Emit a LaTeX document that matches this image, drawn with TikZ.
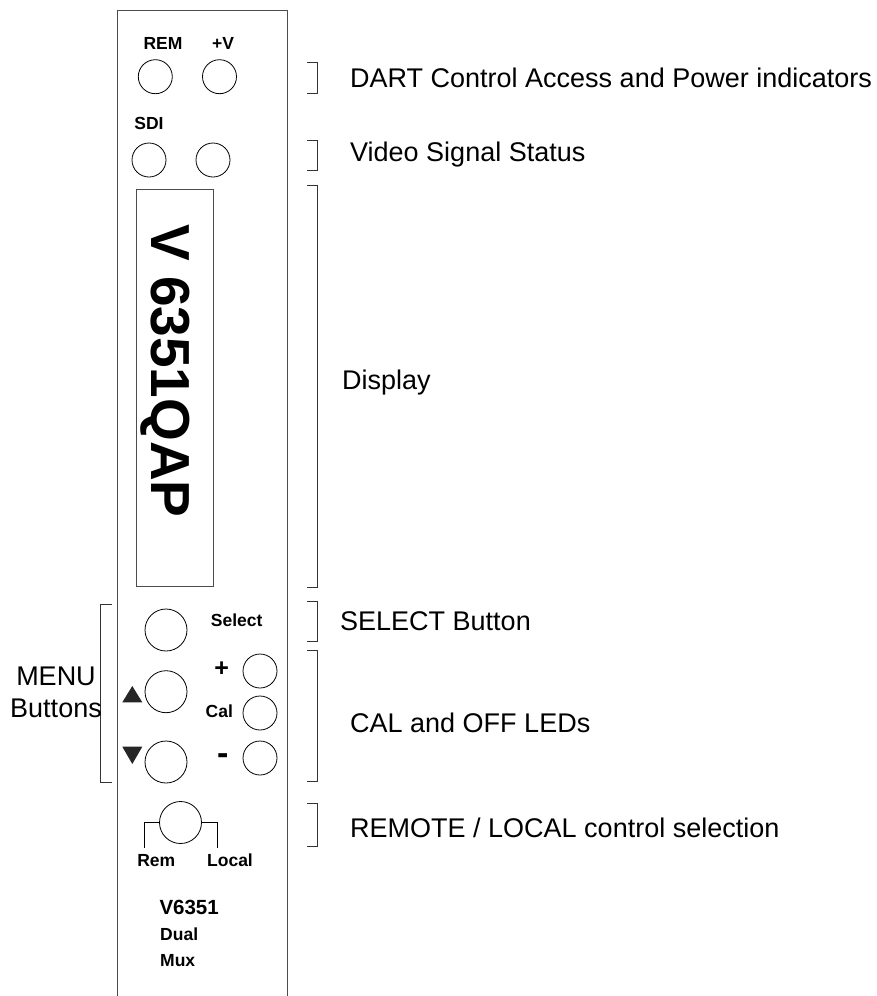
\documentclass[tikz,border=0pt]{standalone}
\usepackage{fontspec}
\setmainfont{Liberation Sans}
\begin{document}
\begin{tikzpicture}[x=1pt,y=-1pt,
  panelline/.style={draw=black!70, line width=0.9pt},
  led/.style={circle, draw=black, line width=0.8pt, inner sep=0pt, minimum size=34pt},
  btn/.style={circle, draw=black, line width=0.8pt, inner sep=0pt, minimum size=42pt},
  small/.style={inner sep=0pt, font=\fontsize{17.5}{20}\selectfont\bfseries, text height=12.5pt, text depth=0pt},
  sign/.style={inner sep=0pt, font=\fontsize{25}{28}\selectfont\bfseries},
  big/.style={inner sep=0pt, font=\fontsize{27}{31}\selectfont, text height=19.3pt, text depth=0pt, anchor=west},
  brk/.style={draw=black!80, line width=0.9pt},
  tri/.style={fill=black!85, draw=none}
]
\useasboundingbox (0,0) rectangle (876,996);
% panel
\draw[panelline] (117,996) -- (117,10) -- (287,10) -- (287,996);
% top LEDs
\node[small] (lrem) at (163,43) {REM};
\node[small] (lpv) at (223,43) {+V};
\node[led] (crem) at (155.3,76.7) {};
\node[led] (cpv) at (219.5,76.7) {};
\node[small] (lsdi) at (149,123) {SDI};
\node[led] (csdi1) at (149,160) {};
\node[led] (csdi2) at (213,160) {};
% display
\node[panelline, draw, minimum width=76.6pt, minimum height=397pt, inner sep=0pt] (disp) at (175,387.5) {};
\node[inner sep=0pt, rotate=-90, font=\fontsize{55}{60}\selectfont\bfseries, text height=39.5pt, text depth=0pt] (dtext) at (171.7,371) {V 6351QAP};
% buttons
\node[btn] (bsel) at (166,630) {};
\node[btn] (bup) at (166,691.7) {};
\node[btn] (bdn) at (166,762) {};
\node[small] (lsel) at (236.7,620.7) {Select};
\node[sign] (lplus) at (221.7,669.3) {+};
\node[small] (lcal) at (219.3,711.7) {Cal};
\node[sign, font=\fontsize{34}{38}\selectfont\bfseries] (lminus) at (222.7,759) {-};
\node[led] (cplus) at (260,671) {};
\node[led] (ccal) at (260,713) {};
\node[led] (cminus) at (260,758) {};
\fill[tri] (132.3,686) -- (142.3,702.3) -- (122.3,702.3) -- cycle;
\fill[tri] (122.3,746.7) -- (142.3,746.7) -- (132.3,764) -- cycle;
% menu bracket
\draw[brk] (111.7,604) -- (100.7,604) -- (100.7,782.7) -- (111.7,782.7);
\node[big, anchor=center] (lmenu) at (56,676) {MENU};
\node[big, anchor=center] (lbuttons) at (56,708) {Buttons};
% remote/local knob
\node[circle, draw=black, line width=0.8pt, inner sep=0pt, minimum size=42pt] (knob) at (180.5,822.5) {};
\coordinate (kl) at (144.3,848);
\coordinate (kr) at (217.3,848);
\draw[black, line width=0.8pt] (knob.west) -- (kl |- knob.west) -- (kl);
\draw[black, line width=0.8pt] (knob.east) -- (kr |- knob.east) -- (kr);
\node[small] (lrem2) at (156.3,860) {Rem};
\node[small] (llocal) at (230,860) {Local};
\node[inner sep=0pt, anchor=west, font=\fontsize{20.5}{24}\selectfont\bfseries, text height=14.7pt, text depth=0pt] (lv) at (159.3,907) {V6351};
\node[small, anchor=west] (ldual) at (160,934) {Dual};
\node[small, anchor=west] (lmux) at (160,960.6) {Mux};
% right brackets
\foreach \a/\b in {62.7/93.3, 140/170, 185/587, 601.7/641.7, 650/781.7, 803.3/846}{
  \draw[brk] (307,\a) -- (317.5,\a) -- (317.5,\b) -- (307,\b);
}
\node[big] (tdart) at (350,78) {DART Control Access and Power indicators};
\node[big] (tvid) at (350,152) {Video Signal Status};
\node[big] (tdisp) at (342,380) {Display};
\node[big] (tsel) at (340,621) {SELECT Button};
\node[big] (tcal) at (350,723) {CAL and OFF LEDs};
\node[big] (trem) at (350,828) {REMOTE / LOCAL control selection};
\end{tikzpicture}
\end{document}
